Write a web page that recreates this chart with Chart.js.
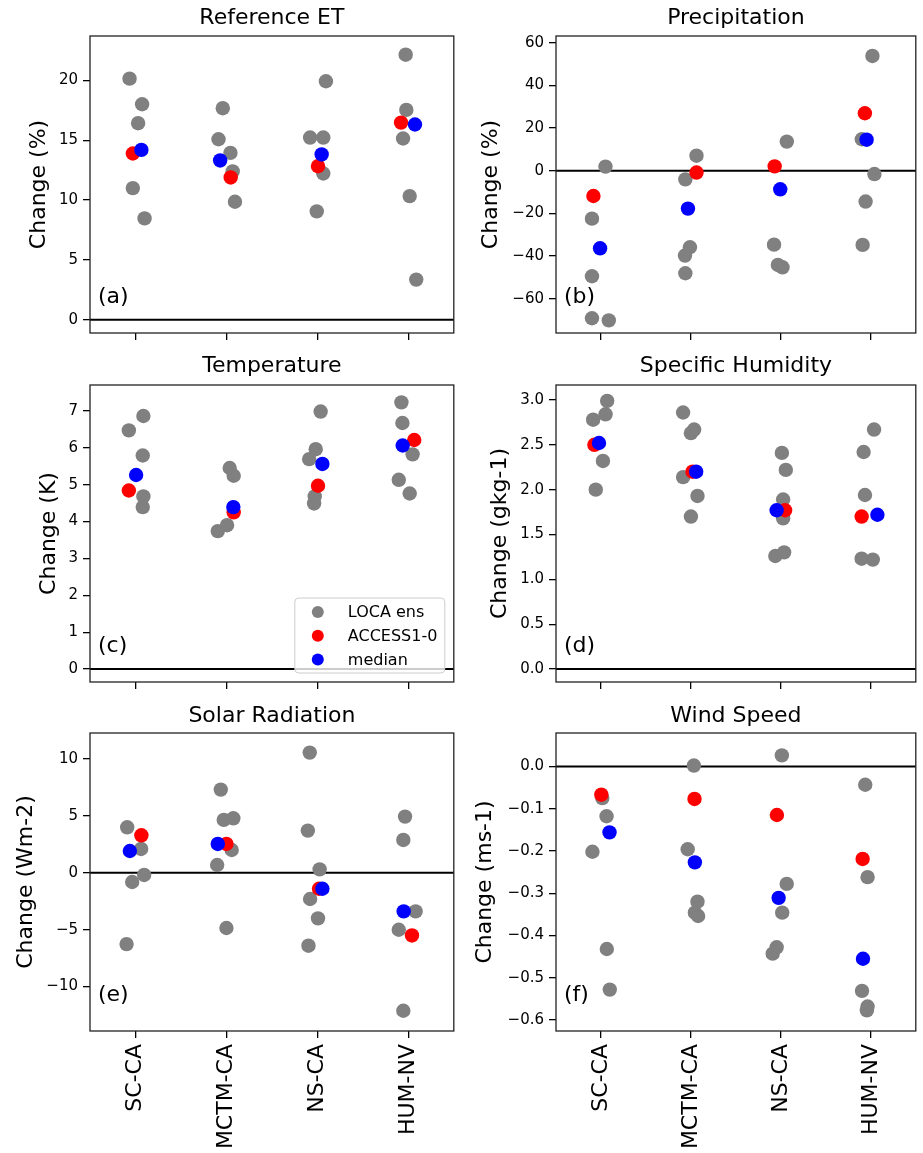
<!DOCTYPE html>
<html>
<head>
<meta charset="utf-8">
<script src="https://cdn.jsdelivr.net/npm/chart.js@4.4.0/dist/chart.umd.min.js"></script>
<style>
  html, body { margin: 0; padding: 0; background: #fff; }
  #fig { position: relative; width: 923px; height: 1153px; overflow: hidden; }
  #fig canvas { position: absolute; }
</style>
</head>
<body>
<div id="fig"></div>
<script>
// regions on the x axis
const regions = ['SC-CA', 'MCTM-CA', 'NS-CA', 'HUM-NV'];
const seriesNames = ['LOCA ens', 'ACCESS1-0', 'median'];

// (a) Reference ET (%)
const etLoca = [[20.14, 18.0, 16.42, 11.0, 8.47], [17.67, 15.08, 13.94, 12.39, 9.86], [19.92, 15.22, 15.22, 12.22, 9.06], [22.14, 17.53, 15.14, 10.33, 3.36]];
const etLocaJit = [[-0.065, 0.073, 0.029, -0.029, 0.10], [-0.04, -0.087, 0.044, 0.069, 0.094], [0.094, -0.08, 0.065, 0.065, -0.007], [-0.029, -0.022, -0.058, 0.015, 0.087]];
const etAccess = [13.89, 11.89, 12.83, 16.47];
const etAccessJit = [-0.029, 0.047, 0.007, -0.08];
const etMedian = [14.19, 13.31, 13.81, 16.31];
const etMedianJit = [0.065, -0.069, 0.047, 0.073];
const etTicks = [0, 5, 10, 15, 20];

// (b) Precipitation (%)
const prLoca = [[1.9, -22.5, -49.5, -69.2, -70.2], [7.0, -4.1, -35.9, -39.8, -48.1], [13.6, -34.7, -44.2, -45.3], [53.75, 14.7, -1.6, -14.5, -34.8]];
const prLocaJit = [[0.05, -0.10, -0.10, -0.10, 0.087], [0.062, -0.062, -0.011, -0.066, -0.062], [0.066, -0.076, -0.033, 0.018], [0.018, -0.10, 0.04, -0.058, -0.091]];
const prAccess = [-11.9, -0.9, 2.0, 26.9];
const prAccessJit = [-0.084, 0.062, -0.069, -0.066];
const prMedian = [-36.4, -17.8, -8.75, 14.5];
const prMedianJit = [-0.01, -0.033, -0.007, -0.047];
const prTicks = [-60, -40, -20, 0, 20, 40, 60];

// (c) Temperature (K)
const taLoca = [[6.86, 6.47, 5.79, 4.68, 4.39], [5.45, 5.24, 3.90, 3.74], [6.98, 5.96, 5.69, 4.68, 4.49], [7.23, 6.67, 5.82, 5.13, 4.76]];
const taLocaJit = [[0.087, -0.073, 0.08, 0.087, 0.08], [0.036, 0.08, 0.007, -0.095], [0.036, -0.018, -0.09, -0.029, -0.036], [-0.076, -0.065, 0.047, -0.105, 0.015]];
const taAccess = [4.84, 4.25, 4.97, 6.21];
const taAccessJit = [-0.073, 0.08, 0.007, 0.065];
const taMedian = [5.26, 4.39, 5.56, 6.06];
const taMedianJit = [0.007, 0.076, 0.055, -0.062];
const taTicks = [0, 1, 2, 3, 4, 5, 6, 7];

// (d) Specific humidity (g/kg)
const huLoca = [[2.99, 2.84, 2.78, 2.32, 2.00], [2.86, 2.67, 2.63, 2.14, 1.93, 1.70], [2.41, 2.22, 1.89, 1.68, 1.30, 1.26], [2.67, 2.42, 1.94, 1.23, 1.22]];
const huLocaJit = [[0.069, 0.051, -0.087, 0.022, -0.058], [-0.087, 0.036, 0.0, -0.087, 0.073, 0.0], [0.011, 0.055, 0.025, 0.025, 0.036, -0.062], [0.036, -0.08, -0.065, -0.102, 0.022]];
const huAccess = [2.50, 2.20, 1.77, 1.70];
const huAccessJit = [-0.073, 0.018, 0.047, -0.102];
const huMedian = [2.52, 2.20, 1.77, 1.72];
const huMedianJit = [-0.022, 0.058, -0.047, 0.073];
const huTicks = [0, 0.5, 1.0, 1.5, 2.0, 2.5, 3.0];

// (e) Solar radiation (W/m2)
const srLoca = [[3.98, 2.08, -0.2, -0.82, -6.27], [7.29, 4.77, 4.63, 1.99, 0.67, -4.86], [10.54, 3.69, 0.29, -2.31, -4.01, -6.41], [4.92, 2.87, -3.40, -5.01, -12.12]];
const srLocaJit = [[-0.091, 0.062, 0.095, -0.036, -0.098], [-0.062, 0.076, -0.029, 0.058, -0.102, 0.0], [-0.084, -0.105, 0.025, -0.080, 0.007, -0.098], [-0.036, -0.055, 0.080, -0.105, -0.055]];
const srAccess = [3.28, 2.52, -1.41, -5.51];
const srAccessJit = [0.065, 0.0, 0.018, 0.040];
const srMedian = [1.90, 2.52, -1.41, -3.40];
const srMedianJit = [-0.062, -0.095, 0.055, -0.051];
const srTicks = [-10, -5, 0, 5, 10];

// (f) Wind speed (m/s)
const wsLoca = [[-0.075, -0.118, -0.202, -0.432, -0.528], [0.002, -0.196, -0.320, -0.346, -0.354], [0.026, -0.278, -0.346, -0.428, -0.443], [-0.0435, -0.262, -0.531, -0.568, -0.577]];
const wsLocaJit = [[0.015, 0.062, -0.095, 0.065, 0.098], [0.033, -0.036, 0.073, 0.044, 0.08], [0.011, 0.065, 0.015, -0.047, -0.091], [-0.062, -0.036, -0.098, -0.036, -0.044]];
const wsAccess = [-0.067, -0.077, -0.115, -0.219];
const wsAccessJit = [0.004, 0.04, -0.044, -0.091];
const wsMedian = [-0.156, -0.227, -0.311, -0.455];
const wsMedianJit = [0.095, 0.044, -0.025, -0.087];
const wsTicks = [-0.6, -0.5, -0.4, -0.3, -0.2, -0.1, 0.0];

const COLORS = ['#808080', '#ff0000', '#0000ff'];
const FONT = 'DejaVu Sans';

// canvas box [x, y, w, h] and plot area [left, top, right, bottom], page pixels
const PANELS = [
    { id: 'chart-et', title: 'Reference ET', ylabel: 'Change (%)', letter: '(a)',
      loca: etLoca, locaJit: etLocaJit, access: etAccess, accessJit: etAccessJit, median: etMedian, medianJit: etMedianJit,
      ticks: etTicks, ymin: -1.1, ymax: 23.7, dec: 0,
      box: [0, 0, 461, 349], area: [90, 36, 457, 333], titleY: 18.5, ylabelX: 39 },
    { id: 'chart-pr', title: 'Precipitation', ylabel: 'Change (%)', letter: '(b)',
      loca: prLoca, locaJit: prLocaJit, access: prAccess, accessJit: prAccessJit, median: prMedian, medianJit: prMedianJit,
      ticks: prTicks, ymin: -76.1, ymax: 63.1, dec: 0,
      box: [461, 0, 462, 349], area: [556, 36, 921, 333], titleY: 18.5, ylabelX: 491 },
    { id: 'chart-ta', title: 'Temperature', ylabel: 'Change (K)', letter: '(c)',
      loca: taLoca, locaJit: taLocaJit, access: taAccess, accessJit: taAccessJit, median: taMedian, medianJit: taMedianJit,
      ticks: taTicks, ymin: -0.35, ymax: 7.7, dec: 0,
      box: [0, 349, 461, 348], area: [90, 385, 457, 682], titleY: 366.7, ylabelX: 49, legend: true },
    { id: 'chart-hu', title: 'Specific Humidity', ylabel: 'Change (gkg-1)', letter: '(d)',
      loca: huLoca, locaJit: huLocaJit, access: huAccess, accessJit: huAccessJit, median: huMedian, medianJit: huMedianJit,
      ticks: huTicks, ymin: -0.145, ymax: 3.167, dec: 1,
      box: [461, 349, 462, 348], area: [556, 385, 921, 682], titleY: 366.7, ylabelX: 500 },
    { id: 'chart-sr', title: 'Solar Radiation', ylabel: 'Change (Wm-2)', letter: '(e)',
      loca: srLoca, locaJit: srLocaJit, access: srAccess, accessJit: srAccessJit, median: srMedian, medianJit: srMedianJit,
      ticks: srTicks, ymin: -13.9, ymax: 12.26, dec: 0,
      box: [0, 697, 461, 456], area: [90, 733, 457, 1031], titleY: 716, ylabelX: 26, showX: true },
    { id: 'chart-ws', title: 'Wind Speed', ylabel: 'Change (ms-1)', letter: '(f)',
      loca: wsLoca, locaJit: wsLocaJit, access: wsAccess, accessJit: wsAccessJit, median: wsMedian, medianJit: wsMedianJit,
      ticks: wsTicks, ymin: -0.626, ymax: 0.079, dec: 1,
      box: [461, 697, 462, 456], area: [556, 733, 921, 1031], titleY: 716, ylabelX: 485, showX: true },
];

/**
 * Zero line under the points, frame, panel letter and (optionally) legend on top
 */
const panelDecor = {
    id: 'panelDecor',
    beforeDatasetsDraw(chart) {
        const { ctx, chartArea: a, scales: { y } } = chart;
        const y0 = y.getPixelForValue(0);
        ctx.save();
        ctx.strokeStyle = '#000';
        ctx.lineWidth = 2;
        ctx.beginPath();
        ctx.moveTo(a.left, y0);
        ctx.lineTo(a.right, y0);
        ctx.stroke();
        ctx.restore();
    },
    afterDatasetsDraw(chart, args, opts) {
        const { ctx, chartArea: a } = chart;
        ctx.save();
        ctx.strokeStyle = '#222';
        ctx.lineWidth = 1.3;
        ctx.strokeRect(a.left, a.top, a.right - a.left, a.bottom - a.top);

        ctx.fillStyle = '#000';
        ctx.font = `22px "${FONT}"`;
        ctx.textAlign = 'left';
        ctx.textBaseline = 'middle';
        ctx.fillText(opts.letter, a.left + 8, a.bottom - 36);

        if (opts.legend) {
            const w = 150, h = 75;
            const bx = a.right - 9 - w;
            const by = a.bottom - 9 - h;
            ctx.beginPath();
            ctx.roundRect(bx, by, w, h, 4);
            ctx.fillStyle = 'rgba(255,255,255,0.8)';
            ctx.fill();
            ctx.strokeStyle = '#cccccc';
            ctx.lineWidth = 1;
            ctx.stroke();
            ctx.font = `16px "${FONT}"`;
            chart.data.datasets.forEach((ds, i) => {
                const ry = by + 14 + i * 23.7;
                ctx.beginPath();
                ctx.arc(bx + 23, ry, 6, 0, Math.PI * 2);
                ctx.fillStyle = ds.backgroundColor;
                ctx.fill();
                ctx.fillStyle = '#000';
                ctx.fillText(ds.label, bx + 53, ry + 1);
            });
        }
        ctx.restore();
    }
};

function nestedPoints(values, jitter) {
    return values.flatMap((vals, c) => vals.map((v, k) => ({ x: c + jitter[c][k], y: v })));
}

function flatPoints(values, jitter) {
    return values.map((v, c) => ({ x: c + jitter[c], y: v }));
}

function fmtTick(value, dec) {
    const s = Math.abs(value) < 1e-9 ? (0).toFixed(dec) : value.toFixed(dec);
    return s.replace('-', '\u2212');
}

function makePanel(p) {
    const [cx, cy, cw, ch] = p.box;
    const [L, T, R, B] = p.area;
    const canvas = document.createElement('canvas');
    canvas.id = p.id;
    canvas.width = cw;
    canvas.height = ch;
    canvas.style.left = cx + 'px';
    canvas.style.top = cy + 'px';
    document.getElementById('fig').appendChild(canvas);

    const titleTop = p.titleY - cy - 13.2;
    const titleBottom = (T - cy) - titleTop - 26.4;

    const dsStyle = (i) => ({
        label: seriesNames[i],
        backgroundColor: COLORS[i],
        borderWidth: 0,
        pointRadius: 7.2,
        pointHoverRadius: 7.2,
        order: 3 - i,
    });

    return new Chart(canvas, {
        type: 'scatter',
        data: {
            datasets: [
                { ...dsStyle(0), data: nestedPoints(p.loca, p.locaJit) },
                { ...dsStyle(1), data: flatPoints(p.access, p.accessJit) },
                { ...dsStyle(2), data: flatPoints(p.median, p.medianJit) },
            ]
        },
        options: {
            responsive: false,
            animation: false,
            events: [],
            layout: { padding: { left: 0, top: 0, right: cx + cw - R, bottom: 0 } },
            plugins: {
                legend: { display: false },
                tooltip: { enabled: false },
                title: {
                    display: true,
                    fullSize: false,
                    text: p.title,
                    color: '#000',
                    font: { family: FONT, size: 22, weight: 'normal', lineHeight: 1.2 },
                    padding: { top: titleTop, bottom: titleBottom }
                },
                panelDecor: { letter: p.letter, legend: !!p.legend }
            },
            scales: {
                x: {
                    type: 'linear',
                    min: -0.5,
                    max: 3.5,
                    bounds: 'data',
                    afterBuildTicks: (scale) => { scale.ticks = regions.map((r, i) => ({ value: i })); },
                    afterFit: (scale) => { scale.height = cy + ch - B; },
                    ticks: {
                        autoSkip: false,
                        minRotation: 90,
                        maxRotation: 90,
                        padding: 6,
                        color: '#000',
                        font: { family: FONT, size: 22 },
                        callback: (v) => p.showX ? regions[v] : ''
                    },
                    grid: { drawOnChartArea: false, drawTicks: true, tickLength: 7, color: '#000', lineWidth: 1.3 },
                    border: { display: false }
                },
                y: {
                    min: p.ymin,
                    max: p.ymax,
                    bounds: 'data',
                    afterBuildTicks: (scale) => { scale.ticks = p.ticks.map(v => ({ value: v })); },
                    afterFit: (scale) => { scale.width = L - cx; },
                    ticks: {
                        padding: 5,
                        color: '#000',
                        font: { family: FONT, size: 15 },
                        callback: (v) => fmtTick(v, p.dec)
                    },
                    grid: { drawOnChartArea: false, drawTicks: true, tickLength: 7, color: '#000', lineWidth: 1.3 },
                    border: { display: false },
                    title: {
                        display: true,
                        text: p.ylabel,
                        color: '#000',
                        font: { family: FONT, size: 22, lineHeight: 1.2 },
                        padding: { top: p.ylabelX - cx - 13.2, bottom: 0 }
                    }
                }
            }
        },
        plugins: [panelDecor]
    });
}

PANELS.forEach(makePanel);
</script>
</body>
</html>
